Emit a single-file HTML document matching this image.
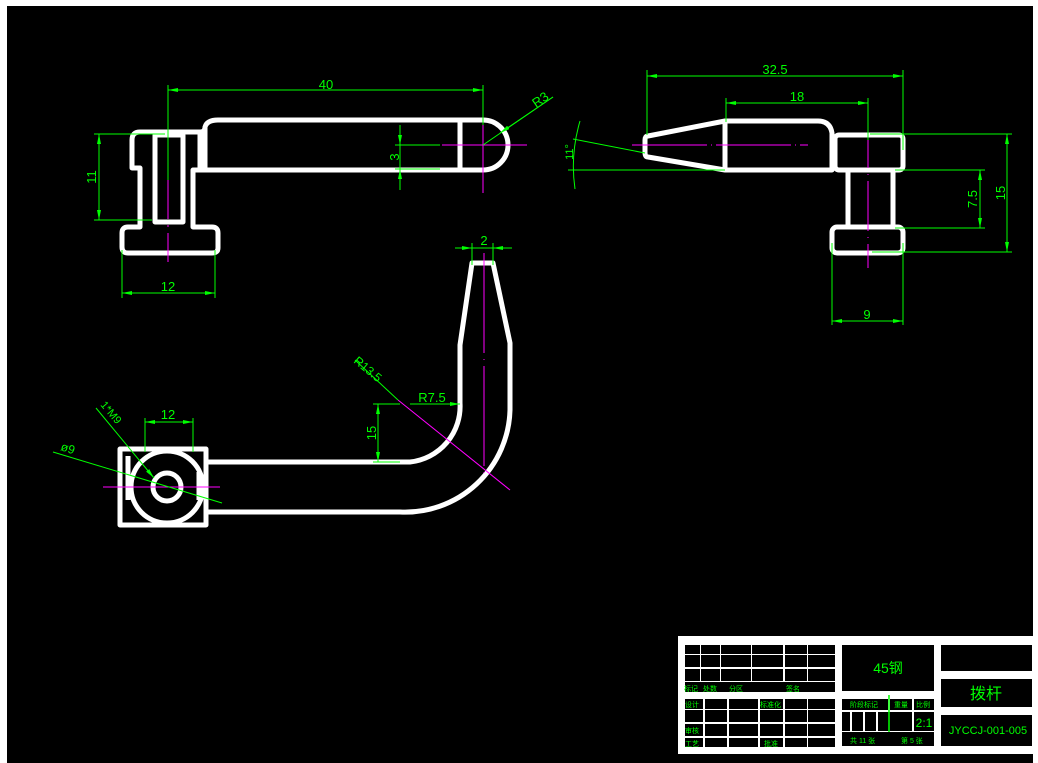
<!DOCTYPE html>
<html><head><meta charset="utf-8"><style>
html,body{margin:0;padding:0;background:#fff;width:1038px;height:763px;overflow:hidden}
svg{display:block}
text{font-family:"Liberation Sans","Noto Sans CJK SC",sans-serif;fill:#00ff00}
</style></head><body>
<svg width="1038" height="763" viewBox="0 0 1038 763" xmlns="http://www.w3.org/2000/svg">
<defs>
<marker id="a" viewBox="0 0 10 4" refX="10" refY="2" markerWidth="10" markerHeight="4" markerUnits="userSpaceOnUse" orient="auto-start-reverse"><path d="M0,0 L10,2 L0,4 Z" fill="#00ff00"/></marker>
</defs>
<rect x="0" y="0" width="1038" height="763" fill="#fff"/>
<rect x="7" y="6" width="1026" height="757" fill="#000"/>

<!-- View 1 -->
<g fill="none" stroke="#fff" stroke-width="5" stroke-linejoin="round">
<path d="M140,132 L200,132 Q205,132 205,127 Q207,120 218,120 L483,120 A25,25 0 0 1 483,170 L193,170 L193,227 L212,227 Q218,227 218,233 L218,248 Q218,253 212,253 L128,253 Q122,253 122,247 L122,233 Q122,227 128,227 L140,227 L140,168 L132,168 L132,140 Q132,132 140,132 Z"/>
<line x1="205" y1="127" x2="205" y2="170"/>
<line x1="200" y1="132" x2="200" y2="170"/>
<rect x="155" y="135" width="28" height="87"/>
<line x1="460" y1="120" x2="460" y2="170"/>
</g>
<g stroke="#ff00ff" stroke-width="1">
<line x1="168" y1="125" x2="168" y2="262" stroke-dasharray="40,6,2,6"/>
<line x1="442" y1="145" x2="527" y2="145"/>
<line x1="483" y1="103" x2="483" y2="193"/>
</g>
<g stroke="#00ff00" stroke-width="1" fill="none">
<line x1="168" y1="90" x2="483" y2="90" marker-start="url(#a)" marker-end="url(#a)"/><line x1="168" y1="85" x2="168" y2="180"/><line x1="483" y1="85" x2="483" y2="125"/>
<line x1="99" y1="134" x2="99" y2="220" marker-start="url(#a)" marker-end="url(#a)"/><line x1="94" y1="134" x2="165" y2="134"/><line x1="94" y1="220" x2="152" y2="220"/>
<line x1="122" y1="293" x2="215" y2="293" marker-start="url(#a)" marker-end="url(#a)"/><line x1="122" y1="250" x2="122" y2="298"/><line x1="215" y1="250" x2="215" y2="298"/>
<line x1="400" y1="125" x2="400" y2="145" marker-end="url(#a)"/><line x1="400" y1="190" x2="400" y2="169" marker-end="url(#a)"/><line x1="400" y1="145" x2="400" y2="169"/><line x1="395" y1="145" x2="440" y2="145"/><line x1="395" y1="169" x2="440" y2="169"/>
<line x1="553" y1="97" x2="483" y2="145"/><line x1="553" y1="97" x2="500" y2="133" marker-end="url(#a)"/>
</g>
<text x="326" y="89" font-size="13" text-anchor="middle">40</text>
<text x="168" y="291" font-size="13" text-anchor="middle">12</text>
<text font-size="13" text-anchor="middle" transform="translate(96,177) rotate(-90)">11</text>
<text font-size="13" text-anchor="middle" transform="translate(399,157) rotate(-90)">3</text>
<text font-size="13" transform="translate(536,108) rotate(-35)">R3</text>

<!-- View 2 -->
<g fill="none" stroke="#fff" stroke-width="5" stroke-linejoin="round">
<path d="M648,136 L725,121 L818,121 Q830,121 832,133 L832,170 L725,170 L648,157 Q645,157 645,152 L645,140 Q645,136 648,136 Z"/>
<line x1="725" y1="121" x2="725" y2="170"/>
<rect x="835" y="135" width="68" height="35" rx="4"/>
<line x1="848" y1="170" x2="848" y2="227"/><line x1="893" y1="170" x2="893" y2="227"/>
<rect x="832" y="227" width="71" height="26" rx="5"/>
</g>
<g stroke="#ff00ff" stroke-width="1">
<line x1="632" y1="145" x2="808" y2="145" stroke-dasharray="75,4,1,4"/>
<line x1="868" y1="118" x2="868" y2="268" stroke-dasharray="50,6,1,6"/>
</g>
<g stroke="#00ff00" stroke-width="1" fill="none">
<line x1="647" y1="76" x2="903" y2="76" marker-start="url(#a)" marker-end="url(#a)"/><line x1="647" y1="70" x2="647" y2="135"/><line x1="903" y1="70" x2="903" y2="150"/>
<line x1="726" y1="103" x2="868" y2="103" marker-start="url(#a)" marker-end="url(#a)"/><line x1="726" y1="98" x2="726" y2="122"/><line x1="868" y1="98" x2="868" y2="140"/>
<line x1="1007" y1="134" x2="1007" y2="252" marker-start="url(#a)" marker-end="url(#a)"/><line x1="870" y1="134" x2="1012" y2="134"/><line x1="872" y1="252" x2="1012" y2="252"/>
<line x1="980" y1="170" x2="980" y2="228" marker-start="url(#a)" marker-end="url(#a)"/><line x1="895" y1="170" x2="985" y2="170"/><line x1="895" y1="228" x2="985" y2="228"/>
<line x1="832" y1="321" x2="903" y2="321" marker-start="url(#a)" marker-end="url(#a)"/><line x1="832" y1="243" x2="832" y2="325"/><line x1="903" y1="243" x2="903" y2="325"/>
<line x1="573" y1="139" x2="645" y2="153"/><line x1="568" y1="170" x2="725" y2="170"/>
<path d="M580,121 Q570,155 575,189"/>
</g>
<text x="775" y="74" font-size="13" text-anchor="middle">32.5</text>
<text x="797" y="101" font-size="13" text-anchor="middle">18</text>
<text x="867" y="319" font-size="13" text-anchor="middle">9</text>
<text font-size="13" text-anchor="middle" transform="translate(1005,193) rotate(-90)">15</text>
<text font-size="13" text-anchor="middle" transform="translate(977,199) rotate(-90)">7.5</text>
<text font-size="11" text-anchor="middle" transform="translate(573,152) rotate(-90)">11°</text>

<!-- View 3 -->
<g fill="none" stroke="#fff" stroke-width="5" stroke-linejoin="round">
<rect x="120" y="449" width="86" height="76"/>
<line x1="128" y1="456" x2="128" y2="500"/>
<line x1="199" y1="472" x2="199" y2="500"/>
<circle cx="167" cy="487" r="36"/>
<circle cx="167" cy="487" r="14"/>
<path d="M206,462 L410,462 A56,56 0 0 0 460,403 L460,345 L472,263 L493,263 L510,343 L510,410 A105,105 0 0 1 400,512 L206,512"/>
</g>
<g stroke="#ff00ff" stroke-width="1">
<line x1="484" y1="253" x2="484" y2="478" stroke-dasharray="100,6,1,6"/>
<line x1="103" y1="487" x2="220" y2="487"/>
<line x1="398" y1="400" x2="510" y2="490"/>
</g>
<g stroke="#00ff00" stroke-width="1" fill="none">
<line x1="455" y1="248" x2="472" y2="248" marker-end="url(#a)"/><line x1="512" y1="248" x2="493" y2="248" marker-end="url(#a)"/><line x1="472" y1="248" x2="493" y2="248"/><line x1="472" y1="243" x2="472" y2="265"/><line x1="493" y1="243" x2="493" y2="265"/>
<line x1="355" y1="360" x2="398" y2="400"/>
<line x1="410" y1="404" x2="460" y2="404" marker-end="url(#a)"/>
<line x1="378" y1="404" x2="378" y2="462" marker-start="url(#a)" marker-end="url(#a)"/><line x1="373" y1="404" x2="400" y2="404"/><line x1="373" y1="462" x2="400" y2="462"/>
<line x1="145" y1="422" x2="193" y2="422" marker-start="url(#a)" marker-end="url(#a)"/><line x1="145" y1="418" x2="145" y2="452"/><line x1="193" y1="418" x2="193" y2="452"/>
<line x1="96" y1="408" x2="154" y2="478" marker-end="url(#a)"/>
<line x1="53" y1="452" x2="222" y2="503"/>
</g>
<text x="484" y="245" font-size="13" text-anchor="middle">2</text>
<text x="432" y="402" font-size="13" text-anchor="middle">R7.5</text>
<text x="168" y="419" font-size="13" text-anchor="middle">12</text>
<text font-size="13" text-anchor="middle" transform="translate(376,433) rotate(-90)">15</text>
<text font-size="12" transform="translate(353,362) rotate(40)">R13.5</text>
<text font-size="11" transform="translate(100,405) rotate(50)">1*M9</text>
<text font-size="12" transform="translate(60,450) rotate(18)">ø9</text>

<!-- Title block -->
<rect x="678" y="636" width="357" height="118" fill="#fff"/>
<g fill="#000">
<rect x="685" y="645" width="15" height="9"/><rect x="701" y="645" width="19" height="9"/><rect x="721" y="645" width="30" height="9"/><rect x="752" y="645" width="31" height="9"/><rect x="785" y="645" width="22" height="9"/><rect x="808" y="645" width="27" height="9"/>
<rect x="685" y="655" width="15" height="12"/><rect x="701" y="655" width="19" height="12"/><rect x="721" y="655" width="30" height="12"/><rect x="752" y="655" width="31" height="12"/><rect x="785" y="655" width="22" height="12"/><rect x="808" y="655" width="27" height="12"/>
<rect x="685" y="669" width="15" height="12"/><rect x="701" y="669" width="19" height="12"/><rect x="721" y="669" width="30" height="12"/><rect x="752" y="669" width="31" height="12"/><rect x="785" y="669" width="22" height="12"/><rect x="808" y="669" width="27" height="12"/>
<rect x="685" y="682" width="150" height="10"/>
<rect x="685" y="699" width="18" height="10"/><rect x="705" y="699" width="22" height="10"/><rect x="729" y="699" width="29" height="10"/><rect x="760" y="699" width="23" height="10"/><rect x="785" y="699" width="22" height="10"/><rect x="808" y="699" width="27" height="10"/>
<rect x="685" y="710" width="18" height="12"/><rect x="705" y="710" width="22" height="12"/><rect x="729" y="710" width="29" height="12"/><rect x="760" y="710" width="23" height="12"/><rect x="785" y="710" width="22" height="12"/><rect x="808" y="710" width="27" height="12"/>
<rect x="685" y="724" width="18" height="12"/><rect x="705" y="724" width="22" height="12"/><rect x="729" y="724" width="29" height="12"/><rect x="760" y="724" width="23" height="12"/><rect x="785" y="724" width="22" height="12"/><rect x="808" y="724" width="27" height="12"/>
<rect x="685" y="738" width="18" height="9"/><rect x="705" y="738" width="22" height="9"/><rect x="729" y="738" width="29" height="9"/><rect x="760" y="738" width="23" height="9"/><rect x="785" y="738" width="22" height="9"/><rect x="808" y="738" width="27" height="9"/>
<rect x="842" y="645" width="92" height="46"/>
<rect x="842" y="699" width="46" height="11"/><rect x="890" y="699" width="22" height="11"/><rect x="914" y="699" width="20" height="11"/>
<rect x="842" y="712" width="8" height="19"/><rect x="852" y="712" width="11" height="19"/><rect x="865" y="712" width="11" height="19"/><rect x="878" y="712" width="34" height="19"/><rect x="914" y="712" width="20" height="19"/>
<rect x="842" y="732" width="92" height="14"/>
<rect x="941" y="645" width="91" height="26"/>
<rect x="941" y="679" width="91" height="28"/>
<rect x="941" y="715" width="91" height="31"/>
</g>
<line x1="889" y1="695" x2="889" y2="732" stroke="#00ff00" stroke-width="1.5"/>
<g font-size="7" fill="#0b9a0b">
<text x="684" y="691">标记</text><text x="703" y="691">处数</text><text x="729" y="691">分区</text><text x="786" y="691">签名</text>
<text x="685" y="707">设计</text><text x="760" y="707">标准化</text>
<text x="685" y="733">审核</text><text x="685" y="746">工艺</text><text x="764" y="746">批准</text>
<text x="850" y="707">阶段标记</text><text x="894" y="707">重量</text><text x="916" y="707">比例</text>
<text x="850" y="743">共 11 张</text><text x="901" y="743">第 5 张</text>
</g>
<text x="888" y="673" font-size="14" text-anchor="middle">45钢</text>
<text x="986" y="699" font-size="16" text-anchor="middle">拨杆</text>
<text x="988" y="734" font-size="11" text-anchor="middle" font-family="Liberation Mono, monospace">JYCCJ-001-005</text>
<text x="924" y="727" font-size="12" text-anchor="middle" font-family="Liberation Mono, monospace">2:1</text>
</svg>
</body></html>
